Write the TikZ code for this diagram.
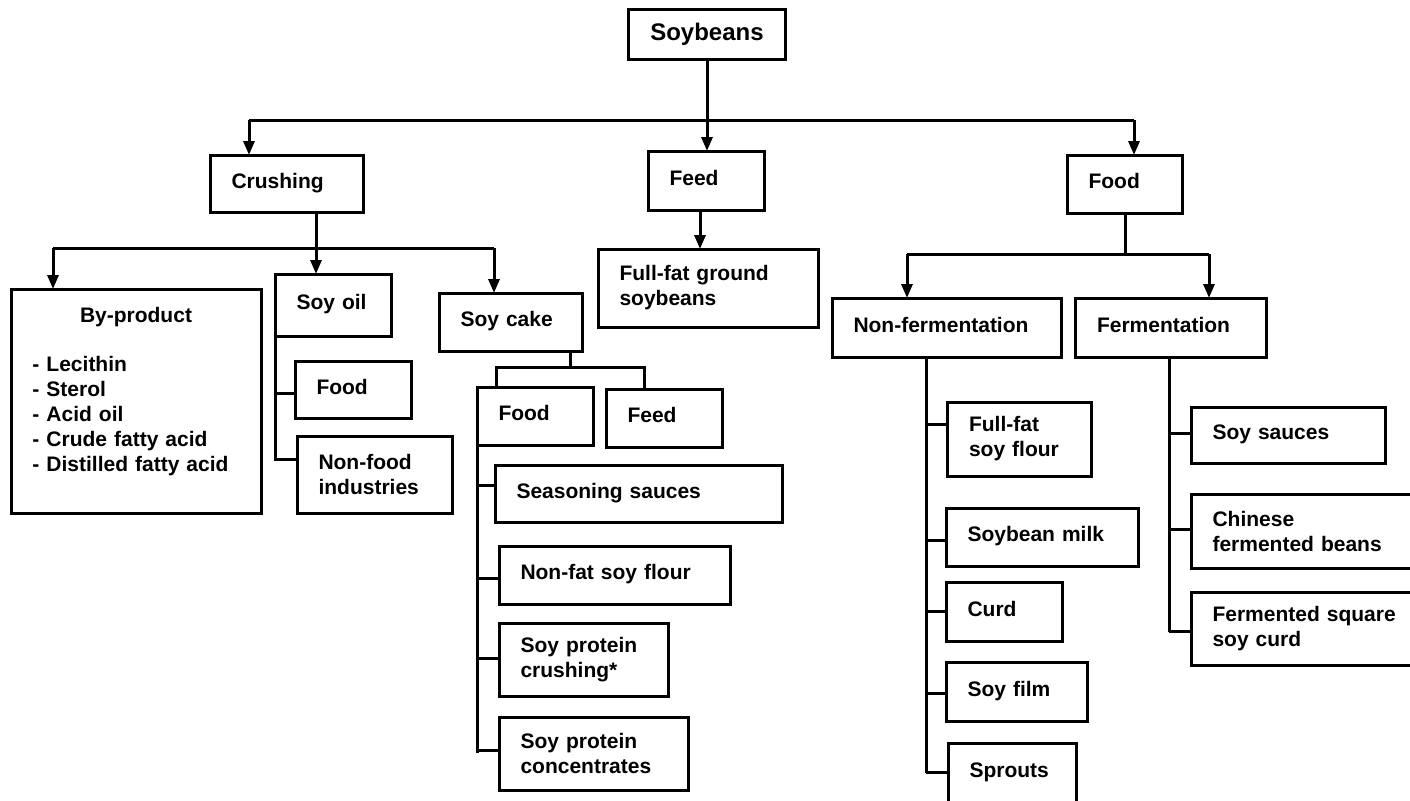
\documentclass[tikz,border=0pt]{standalone}
\usepackage{fontspec}
\setmainfont{Liberation Sans}
\usetikzlibrary{arrows.meta}

\tikzset{
  box/.style={draw, line width=1.5pt, font=\bfseries\fontsize{10.5}{12.5}\selectfont,
    align=left, inner xsep=10.75pt, inner ysep=0pt, outer sep=0pt},
  one/.style={box, text depth=3pt},
  title/.style={draw, line width=1.5pt, font=\bfseries\fontsize{12}{14}\selectfont,
    align=center, minimum width=78.5pt, minimum height=25pt, outer sep=0pt},
  link/.style={line width=1.5pt},
  arr/.style={line width=1.5pt, -{Triangle[length=7pt,width=5.5pt]}}
}

\begin{document}
\begin{tikzpicture}[x=0.5pt, y=-0.5pt]

\useasboundingbox (0,0) rectangle (1410,800);
\clip (0,0) rectangle (1410,800);

% Root
\node (soybeans) at (707,34) [title] {Soybeans};

% First level
\node (crushing) at (286.5,183.5) [one, text width=55pt, minimum height=28.5pt] {Crushing};
\node (feed) at (706,180.5) [one, text width=36.5pt, minimum height=29.5pt] {Feed};
\node (foodmain) at (1124.5,184) [one, text width=36pt, minimum height=29pt] {Food};

% Crushing branch
\node (byproduct) at (136,401) [box, text width=103.5pt, minimum height=112pt]
  {{\centering By-product\par}\vspace{12pt}
   - Lecithin\\ - Sterol\\ - Acid oil\\ - Crude fatty acid\\ - Distilled fatty acid\rule[-12pt]{0pt}{0pt}};
\node (soyoil) at (333,305) [one, text width=36.5pt, minimum height=31pt] {Soy oil};
\node (oilfood) at (353,389.5) [one, text width=36.5pt, minimum height=28.5pt] {Food};
\node (nonfood) at (374.5,474.5) [box, text width=56pt, minimum height=38.5pt] {Non-food\\industries};
\node (soycake) at (510.5,322) [one, text width=50pt, minimum height=29pt] {Soy cake};
\node (cakefood) at (535,416) [one, text width=36.5pt, minimum height=29pt] {Food};
\node (cakefeed) at (664,418) [one, text width=36.5pt, minimum height=29pt] {Feed};
\node (season) at (638.5,493.5) [one, text width=122pt, minimum height=28.5pt] {Seasoning sauces};
\node (nonfat) at (614.5,575) [one, text width=94pt, minimum height=29pt] {Non-fat soy flour};
\node (protcrush) at (583.5,659.5) [box, text width=63pt, minimum height=36.5pt] {Soy protein\\crushing*};
\node (protconc) at (593.5,753.5) [box, text width=73pt, minimum height=36.5pt] {Soy protein\\concentrates};

% Feed branch
\node (fullground) at (708,288) [box, text width=88.5pt, minimum height=39pt] {Full-fat ground\\soybeans};

% Food branch
\node (nonferm) at (946.5,327.5) [one, text width=93pt, minimum height=29.5pt] {Non-fermentation};
\node (ferm) at (1171,327.5) [one, text width=74pt, minimum height=29.5pt] {Fermentation};
\node (fullflour) at (1019.25,439) [box, text width=50.25pt, minimum height=37pt] {Full-fat\\soy flour};
\node (soymilk) at (1042,537) [one, text width=74.5pt, minimum height=29pt] {Soybean milk};
\node (curd) at (1004,611.5) [one, text width=36.5pt, minimum height=29.5pt] {Curd};
\node (soyfilm) at (1016.75,691.5) [one, text width=49.25pt, minimum height=29.5pt] {Soy film};
\node (sprouts) at (1012,773) [one, text width=42.5pt, minimum height=30pt] {Sprouts};
\node (soysauce) at (1288,435) [one, text width=75.5pt, minimum height=28pt] {Soy sauces};
\node (chinese) at (1305.5,531) [box, text width=93pt, minimum height=37pt] {Chinese\\fermented beans};
\node (fermsquare) at (1305.5,628.5) [box, text width=93pt, minimum height=36.5pt] {Fermented square\\soy curd};

% Soybeans split
\coordinate (splitl) at (249,120);
\coordinate (splitr) at (1134,120);
\draw[link] (splitl) -- (splitr);
\draw[arr] (soybeans) -- (soybeans |- feed.north);
\draw[arr] (splitl) -- (splitl |- crushing.north);
\draw[arr] (splitr) -- (splitr |- foodmain.north);
\draw[arr] ([xshift=-3pt]feed.south) -- ([xshift=-3pt]feed.south |- fullground.north);

% Crushing split
\coordinate (crushl) at (53,248);
\coordinate (crushm) at (316,248);
\coordinate (crushr) at (494,248);
\draw[link] (crushl) -- (crushr);
\draw[arr] (crushing.south -| crushm) -- (crushm |- soyoil.north);
\draw[arr] (crushl) -- (crushl |- byproduct.north);
\draw[arr] (crushr) -- (crushr |- soycake.north);

% Soy oil uses
\coordinate (oilend) at (275,459);
\draw[link] (soyoil.south west) -- (oilend) -- (oilend -| nonfood.west);
\coordinate (oilmid) at (275,393);
\draw[link] (oilmid) -- (oilmid -| oilfood.west);

% Soy cake uses
\coordinate (cakem) at (570,367);
\coordinate (cakel) at (496,367);
\coordinate (caker) at (644,367);
\draw[link] (soycake.south -| cakem) -- (cakem);
\draw[link] (cakel |- cakefood.north) -- (cakel) -- (caker) -- (caker |- cakefeed.north);

% Soy cake food products
\coordinate (cakeend) at (477,753);
\draw[link] (cakefood.south west) -- (cakeend);
\foreach \y/\n in {485/season, 578/nonfat, 658/protcrush, 750/protconc} {
  \coordinate (cf\n) at (477,\y);
  \draw[link] (cf\n) -- (cf\n -| \n.west);
}

% Food split
\coordinate (foodm) at (1125,254);
\coordinate (foodl) at (907,254);
\coordinate (foodr) at (1209,254);
\draw[link] (foodmain.south -| foodm) -- (foodm);
\draw[link] (foodl) -- (foodr);
\draw[arr] (foodl) -- (foodl |- nonferm.north);
\draw[arr] (foodr) -- (foodr |- ferm.north);

% Non-fermentation products
\coordinate (nfend) at (926,773);
\draw[link] (nonferm.south -| nfend) -- (nfend);
\foreach \y/\n in {424/fullflour, 540/soymilk, 611/curd, 693/soyfilm, 772/sprouts} {
  \coordinate (nf\n) at (926,\y);
  \draw[link] (nf\n) -- (nf\n -| \n.west);
}

% Fermentation products
\coordinate (fend) at (1169,632);
\draw[link] (ferm.south -| fend) -- (fend);
\foreach \y/\n in {433/soysauce, 529/chinese, 631/fermsquare} {
  \coordinate (fe\n) at (1169,\y);
  \draw[link] (fe\n) -- (fe\n -| \n.west);
}

\end{tikzpicture}
\end{document}
